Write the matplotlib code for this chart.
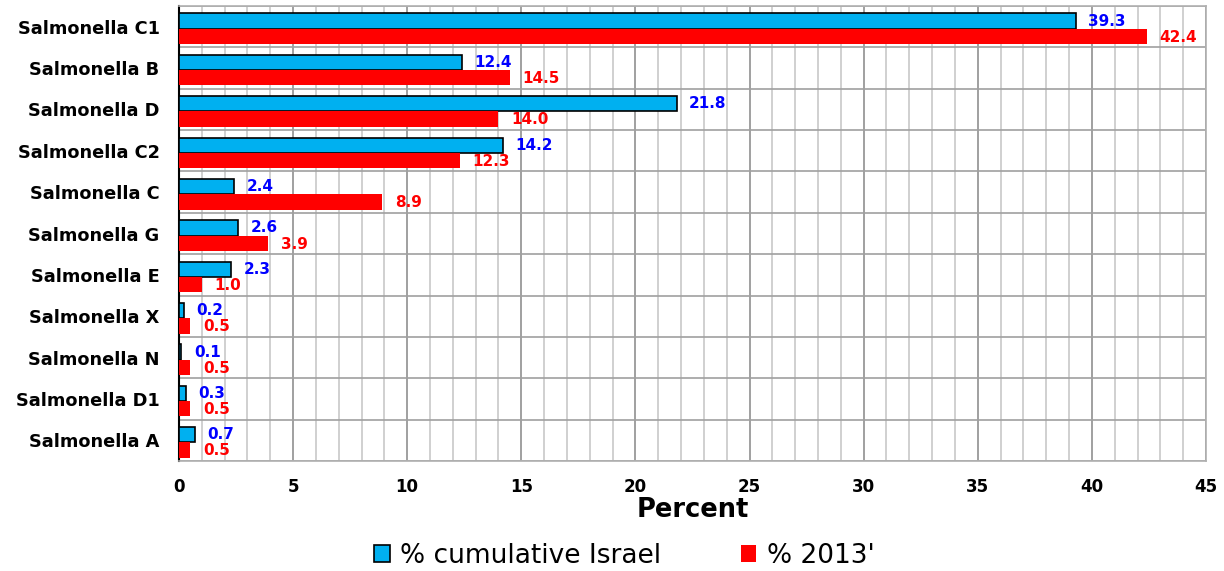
import numpy as np
import matplotlib.pyplot as plt
from matplotlib.patches import Patch

categories = ['Salmonella C1', 'Salmonella B', 'Salmonella D', 'Salmonella C2',
              'Salmonella C', 'Salmonella G', 'Salmonella E', 'Salmonella X',
              'Salmonella N', 'Salmonella D1', 'Salmonella A']
cumulative_israel = [39.3, 12.4, 21.8, 14.2, 2.4, 2.6, 2.3, 0.2, 0.1, 0.3, 0.7]
pct_2013 = [42.4, 14.5, 14.0, 12.3, 8.9, 3.9, 1.0, 0.5, 0.5, 0.5, 0.5]

plt.rcParams['font.family'] = ['DejaVu Sans']

fig = plt.figure(figsize=(12.24, 5.71), dpi=100)
ax = fig.add_axes([0.1462, 0.1926, 0.8391, 0.7969])

y = np.arange(len(categories))
h = 0.37
ax.barh(y - h / 2 + 0.05, cumulative_israel, height=h, color='#00B0F0',
        edgecolor='black', linewidth=1.2, zorder=3)
ax.barh(y + h / 2 + 0.05, pct_2013, height=h, color='#FF0000',
        edgecolor='none', zorder=3)

for i in range(len(categories)):
    ax.text(cumulative_israel[i] + 0.55, y[i] - h / 2 + 0.05, '%.1f' % cumulative_israel[i],
            color='#0000FF', fontsize=11, fontweight='bold', va='center', ha='left')
    ax.text(pct_2013[i] + 0.55, y[i] + h / 2 + 0.07, '%.1f' % pct_2013[i],
            color='#FF0000', fontsize=11, fontweight='bold', va='center', ha='left')

ax.set_xlim(0, 45)
ax.set_ylim(len(categories) - 0.5, -0.5)
ax.set_xticks(np.arange(0, 46, 5))
ax.set_xticks(np.arange(0, 46, 1), minor=True)
ax.set_yticks(y)
ax.set_yticklabels(categories, fontsize=12.8, fontweight='bold')
ax.set_yticks(np.arange(-0.5, len(categories), 1), minor=True)
for lab in ax.get_xticklabels():
    lab.set_fontweight('bold')
    lab.set_fontsize(12)
ax.tick_params(axis='both', which='both', length=0)
ax.tick_params(axis='x', pad=12)
ax.tick_params(axis='y', pad=14)

ax.grid(which='minor', axis='x', color='#c8c8c8', linewidth=1.2, zorder=0)
ax.grid(which='major', axis='x', color='#909090', linewidth=1.2, zorder=0)
ax.grid(which='minor', axis='y', color='#a0a0a0', linewidth=1.2, zorder=0)
ax.grid(which='major', axis='y', visible=False)

for s in ['top', 'right', 'bottom']:
    ax.spines[s].set_color('#b0b0b0')
    ax.spines[s].set_linewidth(1.2)
ax.spines['left'].set_color('black')
ax.spines['left'].set_linewidth(1.5)

ax.set_xlabel('Percent', fontsize=18.5, fontweight='bold', labelpad=1)

handles = [Patch(facecolor='#00B0F0', edgecolor='black', linewidth=1.2),
           Patch(facecolor='#FF0000', edgecolor='none')]
fig.legend(handles, ['% cumulative Israel', "% 2013'"], loc='center',
           bbox_to_anchor=(0.51, 0.026), ncol=2, frameon=False, fontsize=19,
           handlelength=0.6, handleheight=0.6, handletextpad=0.4, columnspacing=3.0,
           borderpad=0)

fig.savefig('out.png', dpi=100)
